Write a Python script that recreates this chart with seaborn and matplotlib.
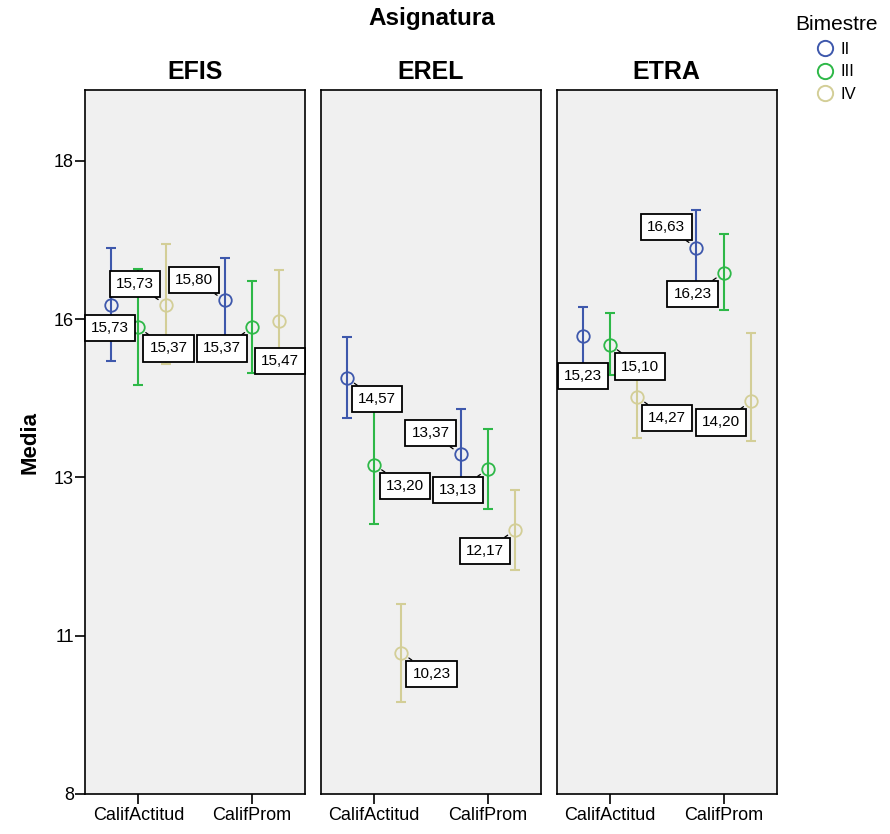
import matplotlib
matplotlib.use("Agg")
import matplotlib.pyplot as plt
import numpy as np
import pandas as pd
import seaborn as sns
from matplotlib.lines import Line2D

# ---------------- data ----------------
asignaturas = ["EFIS", "EREL", "ETRA"]
variables = ["CalifActitud", "CalifProm"]
bimestres = ["II", "III", "IV"]

# order inside each list: CalifActitud II, III, IV, CalifProm II, III, IV
efis_media = [15.73, 15.37, 15.73, 15.80, 15.37, 15.47]
efis_lo = [14.84, 14.46, 14.79, 15.14, 14.65, 14.68]
efis_hi = [16.63, 16.29, 16.69, 16.47, 16.10, 16.28]

erel_media = [14.57, 13.20, 10.23, 13.37, 13.13, 12.17]
erel_lo = [13.94, 12.27, 9.45, 12.66, 12.50, 11.54]
erel_hi = [15.22, 14.15, 11.00, 14.08, 13.77, 12.80]

etra_media = [15.23, 15.10, 14.27, 16.63, 16.23, 14.20]
etra_lo = [14.79, 14.62, 13.62, 16.07, 15.65, 13.58]
etra_hi = [15.69, 15.60, 14.92, 17.23, 16.85, 15.28]

ytick_vals = [8, 10.5, 13, 15.5, 18]
ytick_labels = ["8", "11", "13", "16", "18"]

# label offsets (pixels, right / down) for each point, same order as data
label_off = {
    "EFIS": [(-1, 23), (30, 21), (-31, -21), (-31, -20), (-30, 21), (1, 40)],
    "EREL": [(30, 21), (31, 21), (30, 21), (-30, -21), (-30, 21), (-30, 21)],
    "ETRA": [(0, 40), (30, 22), (30, 21), (-30, -21), (-31, 21), (-30, 21)],
}

series = {
    "EFIS": (efis_media, efis_lo, efis_hi),
    "EREL": (erel_media, erel_lo, erel_hi),
    "ETRA": (etra_media, etra_lo, etra_hi),
}

rows = []
for asig in asignaturas:
    m, lo, hi = series[asig]
    k = 0
    for v in variables:
        for b in bimestres:
            rows.append(dict(Asignatura=asig, Variable=v, Bimestre=b,
                             Media=m[k], lo=lo[k], hi=hi[k], idx=k))
            k += 1
df = pd.DataFrame(rows)

palette = {"II": "#3E58AC", "III": "#2EB848", "IV": "#D3CE97"}

# ---------------- figure ----------------
sns.set_style("white")
plt.rcParams["font.family"] = ["Liberation Sans", "DejaVu Sans"]
plt.rcParams["text.color"] = "black"
plt.rcParams["axes.labelcolor"] = "black"
plt.rcParams["xtick.color"] = "black"
plt.rcParams["ytick.color"] = "black"

fig, axes = plt.subplots(1, 3, figsize=(8.9, 8.34), dpi=100, sharey=True)
fig.subplots_adjust(left=85 / 890, right=777 / 890, bottom=1 - 794 / 834,
                    top=1 - 90 / 834, wspace=0.07)

for ax, asig in zip(axes, asignaturas):
    sub = df[df.Asignatura == asig]
    sns.pointplot(data=sub, x="Variable", y="Media", hue="Bimestre",
                  order=variables, hue_order=bimestres, palette=palette,
                  dodge=0.48, errorbar=None, markers="o", linestyle="none",
                  markersize=9, markeredgewidth=1.3, ax=ax, legend=False)
    ax.set_facecolor("#F0F0F0")
    lines = list(ax.lines)[: len(bimestres)]
    for line, b in zip(lines, bimestres):
        line.set_markerfacecolor("none")
        line.set_zorder(4)
        xs = np.asarray(line.get_xdata(), dtype=float)
        ys = np.asarray(line.get_ydata(), dtype=float)
        for xv, yv, var in zip(xs, ys, variables):
            r = sub[(sub.Variable == var) & (sub.Bimestre == b)].iloc[0]
            ax.errorbar([xv], [yv], yerr=[[yv - r.lo], [r.hi - yv]], fmt="none",
                        ecolor=palette[b], elinewidth=1.5, capsize=3.5,
                        capthick=1.5, zorder=3)
            dx, dy = label_off[asig][int(r.idx)]
            arrow = None
            if abs(dx) > 5:
                arrow = dict(arrowstyle="-", color="black", lw=0.9,
                             shrinkA=0, shrinkB=6.5)
            ax.annotate(f"{r.Media:.2f}".replace(".", ","), xy=(xv, yv),
                        xytext=(dx, -dy), textcoords="offset pixels",
                        ha="center", va="center", fontsize=11, zorder=6,
                        bbox=dict(boxstyle="square,pad=0.4", fc="white",
                                  ec="black", lw=1.3),
                        arrowprops=arrow)
    ax.set_xlim(-0.47, 1.47)
    ax.set_ylim(8, 19.12)
    ax.set_xlabel("")
    ax.set_ylabel("")
    ax.set_title(asig, fontsize=18, fontweight="bold", pad=8)
    for s in ax.spines.values():
        s.set_color("black")
        s.set_linewidth(1.2)
    ax.tick_params(axis="x", direction="out", length=7, width=1.2,
                   labelsize=13, pad=2, bottom=True, color="black")
    ax.tick_params(axis="y", direction="out", length=7, width=1.2,
                   labelsize=13, pad=1, left=True, color="black")

axes[0].set_yticks(ytick_vals, ytick_labels)
for ax in axes[1:]:
    ax.tick_params(axis="y", left=False, labelleft=False)

fig.text(30 / 890, 1 - 442 / 834, "Media", rotation=90, ha="center",
         va="center", fontsize=16, fontweight="bold")
fig.text(432 / 890, 1 - 18 / 834, "Asignatura", ha="center", va="center",
         fontsize=17.5, fontweight="bold")

handles = [Line2D([], [], linestyle="none", marker="o", markersize=11,
                  markerfacecolor="none", markeredgecolor=palette[b],
                  markeredgewidth=1.4) for b in bimestres]
fig.legend(handles, bimestres, title="Bimestre", loc="upper left",
           bbox_to_anchor=(787 / 890, 1 - 7 / 834), frameon=False,
           fontsize=12, title_fontsize=15, handlelength=1.0,
           handletextpad=0.4, labelspacing=0.45, borderpad=0)

fig.savefig("out.png", dpi=100)
